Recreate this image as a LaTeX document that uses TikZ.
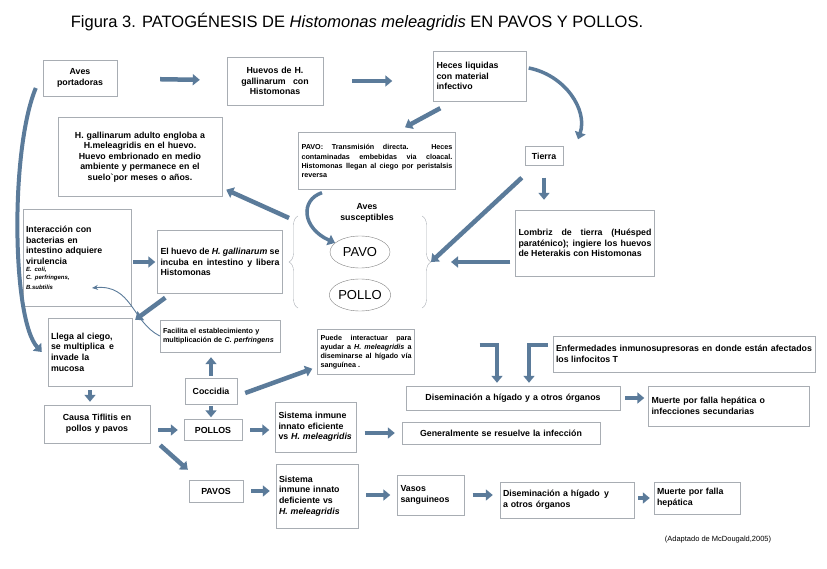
\documentclass[tikz,border=0pt]{standalone}
\usepackage{fontspec}
\setmainfont{Liberation Sans}
\usetikzlibrary{arrows.meta,positioning,calc,shapes.geometric,decorations.pathreplacing}
\definecolor{arrowblue}{HTML}{5B7B9A}
\definecolor{boxgray}{HTML}{A8ADB3}

\begin{document}
\hyphenpenalty=10000 \exhyphenpenalty=10000
\begin{tikzpicture}[x=1pt, y=-1pt]
	\tikzset{
		box/.style = {draw=boxgray, fill=white, inner sep=3pt, font=\bfseries\fontsize{8.8}{10.6}\selectfont},
		smallbox/.style = {box, font=\bfseries\fontsize{7.2}{9.2}\selectfont},
		bird/.style = {ellipse, draw=gray, minimum width=60pt, minimum height=32pt, inner sep=0pt, font=\fontsize{13}{14}\selectfont},
		arr/.style = {-{Triangle[length=7pt, width=11pt]}, line width=4.5pt, draw=arrowblue},
		thinarr/.style = {-{Stealth[length=6pt, width=5pt]}, line width=0.9pt, draw=arrowblue},
		bracket/.style = {draw=boxgray, thin, decorate, decoration={brace, amplitude=9pt}}
	}
	\useasboundingbox (0,0) rectangle (827,569);

	\node[font=\fontsize{16.5}{18}\selectfont](title) at (357,22) {Figura 3. PATOGÉNESIS DE \textit{Histomonas meleagridis} EN PAVOS Y POLLOS.};

	% top row
	\node[box, text width=68pt, minimum height=36pt, align=center](aves) at (80,78) {Aves\\portadoras};
	\node[box, text width=90pt, minimum height=48pt, align=center](huevos) at (275,81) {Huevos de H.\\gallinarum \enspace con\\Histomonas};
	\node[box, text width=87pt, minimum height=50pt, align=left](heces) at (480,76) {Heces liquidas\\con material\\infectivo};

	\node[box, text width=160pt, minimum height=79pt, inner sep=2pt, align=center](adulto) at (140,157) {H. gallinarum adulto engloba a\\H.meleagridis en el huevo.\\Huevo embrionado en medio\\ambiente y permanece en el\\suelo\textasciigrave por meses o años.};
	\node[smallbox, text width=151pt, minimum height=57pt, align=justify](pavotx) at (377,161) {PAVO: Transmisión directa. Heces contaminadas embebidas via cloacal. Histomonas llegan al ciego por peristalsis reversa};
	\node[box, text width=32pt, minimum height=19pt, align=center](tierra) at (544,156) {Tierra};
	\node[box, text width=133pt, minimum height=66pt, align=justify](lombriz) at (585,243) {Lombriz de tierra (Huésped paraténico); ingiere los huevos de Heterakis con Histomonas};

	% susceptible birds
	\node[font=\bfseries\fontsize{8.8}{10.6}\selectfont, align=center](susc) at (367,213) {Aves\\susceptibles};
	\node[bird](pavo) at (360,252) {PAVO};
	\node[bird](pollo) at (360,295) {POLLO};
	\coordinate (lb) at (289,262);
	\coordinate (rb) at (431,262);
	\draw[bracket] (298,308) -- (298,216);
	\draw[bracket] (422,216) -- (422,308);

	% left column
	\node[box, text width=102pt, minimum height=97pt, align=left](inter) at (77,258) {Interacción con\\bacterias en\\intestino adquiere\\virulencia\\{\fontsize{6}{7.5}\selectfont\itshape E. coli,\\C. perfringens,\\B.subtilis}};
	\node[box, text width=119pt, minimum height=63pt, align=justify](elhuevo) at (220,262) {El huevo de \textit{H. gallinarum} se incuba en intestino y libera Histomonas};
	\node[box, text width=78pt, minimum height=68pt, align=left](llega) at (90,352) {Llega al ciego,\\se multiplica\enspace e\\invade la\\mucosa};
	\node[smallbox, text width=114pt, minimum height=32pt, align=left](facilita) at (220,336) {Facilita el establecimiento y\\multiplicación de \textit{C. perfringens}};
	\node[smallbox, text width=91pt, minimum height=45pt, align=justify](puede) at (366,352) {Puede interactuar para ayudar a \textit{H. meleagridis} a diseminarse al hígado vía sanguínea .};
	\node[box, text width=256pt, minimum height=36pt, align=justify](enferm) at (684,354) {Enfermedades inmunosupresoras en donde están afectados los linfocitos T};

	% lower rows
	\node[box, minimum width=52pt, minimum height=26pt](coccidia) at (211,391) {Coccidia};
	\node[box, text width=208pt, minimum height=24pt, align=center](disem1) at (513,398) {Diseminación a hígado y a otros órganos};
	\node[box, text width=155pt, minimum height=40pt, align=left](muerte1) at (729,406) {Muerte por falla hepática o\\infecciones secundarias};
	\node[box, text width=100pt, minimum height=38pt, align=center](causa) at (97,424) {Causa Tiflitis en\\pollos y pavos};
	\node[box, minimum width=58pt, minimum height=21pt](pollos) at (213,430) {POLLOS};
	\node[box, text width=75pt, minimum height=50pt, align=left](sis1) at (316,427) {Sistema inmune\\innato eficiente\\vs \textit{H. meleagridis}};
	\node[box, text width=192pt, minimum height=22pt, align=center](gen) at (501,433) {Generalmente se resuelve la infección};
	\node[box, minimum width=54pt, minimum height=22pt](pavos) at (216,491) {PAVOS};
	\node[box, text width=76pt, minimum height=64pt, align=left](sis2) at (317,496) {Sistema\\inmune innato\\deficiente vs\\\textit{H. meleagridis}};
	\node[box, text width=61pt, minimum height=40pt, align=left](vasos) at (431,495) {Vasos\\sanguineos};
	\node[box, text width=128pt, minimum height=36pt, align=left](disem2) at (567,500) {Diseminación a hígado\enspace y\\a otros órganos};
	\node[box, text width=80pt, minimum height=32pt, align=left](muerte2) at (697,498) {Muerte por falla\\hepática};
	\node[font=\fontsize{7.5}{9}\selectfont](fuente) at (718,540) {(Adaptado de McDougald,2005)};

	% connectors
	\draw[arr, shorten <=43pt, shorten >=27pt] (aves) -- (huevos);
	\draw[arr, shorten <=29pt, shorten >=41pt] (huevos.east) -- (heces.west |- huevos.east);
	\draw[arr] ([shift={(7,7)}]heces.south west) -- ([shift={(28,-5)}]pavotx.north);
	\draw[arr, line width=3.5pt] ([shift={(2,-8)}]heces.east) .. controls (565,75) and (588,110) .. ([shift={(34,-7)}]tierra.north);
	\draw[arr, shorten <=12pt, shorten >=10pt] (tierra) -- (lombriz.north -| tierra);
	\draw[arr] ([shift={(-3,12)}]tierra.south west) -- (rb);
	\draw[arr] ([shift={(-5,19)}]lombriz.west) -- ([shift={(20,0)}]rb);
	\draw[arr, line width=3.5pt] ([shift={(-55,3)}]pavotx.south) .. controls (300,200) and (302,228) .. (pavo.160);
	\draw[arr] ([shift={(0,-44)}]lb) -- ([shift={(4,-7)}]adulto.south east);
	\draw[arr, shorten <=2pt, shorten >=2pt] (inter.east |- elhuevo) -- (elhuevo.west);
	\draw[arr] ([shift={(8,4)}]elhuevo.south west) -- ([shift={(3,2)}]llega.north east);
	\draw[thinarr] (facilita.west) .. controls (132,322) and (132,284) .. ([shift={(15,30)}]inter.center);
	\draw[arr, shorten <=2pt, shorten >=5pt] (coccidia.north) -- (coccidia.north |- facilita.south);
	\draw[arr] ([shift={(8,2)}]coccidia.east) -- ([shift={(-5,-6)}]puede.south west);
	\draw[arr, shorten <=2pt, shorten >=2pt] (coccidia.south) -- (coccidia.south |- pollos.north);
	\draw[arr, shorten <=65pt, shorten >=3pt] ([yshift=7pt]puede.east) -| ([xshift=-16pt]disem1.north);
	\draw[arr, shorten <=5pt, shorten >=3pt] ([yshift=9pt]enferm.west) -| ([xshift=16pt]disem1.north);
	\draw[arr, shorten <=5pt, shorten >=4pt] (disem1.east) -- (disem1.east -| muerte1.west);
	\draw[arr, line width=4pt] ([shift={(-7,10)}]aves.west) .. controls (10,150) and (12,320) .. ([shift={(-6,0)}]llega.west);
	\draw[arr, shorten <=4pt, shorten >=3pt] (llega) -- (causa.north -| llega);
	\draw[arr, shorten <=8pt, shorten >=6pt] (causa.east |- pollos) -- (pollos.west);
	\draw[arr] ([shift={(10,2)}]causa.south east) -- ([shift={(-1,-10)}]pavos.north west);
	\draw[arr, shorten <=8pt, shorten >=6pt] (pollos.east) -- (pollos.east -| sis1.west);
	\draw[arr, shorten <=8pt, shorten >=7pt] (sis1.east |- gen) -- (gen.west);
	\draw[arr, shorten <=8pt, shorten >=6pt] (pavos.east) -- (pavos.east -| sis2.west);
	\draw[arr, shorten <=8pt, shorten >=7pt] (sis2.east |- vasos) -- (vasos.west);
	\draw[arr, shorten <=8pt, shorten >=7pt] (vasos.east) -- (vasos.east -| disem2.west);
	\draw[arr, shorten <=4pt, shorten >=4pt] (disem2.east |- muerte2) -- (muerte2.west);
\end{tikzpicture}
\end{document}
